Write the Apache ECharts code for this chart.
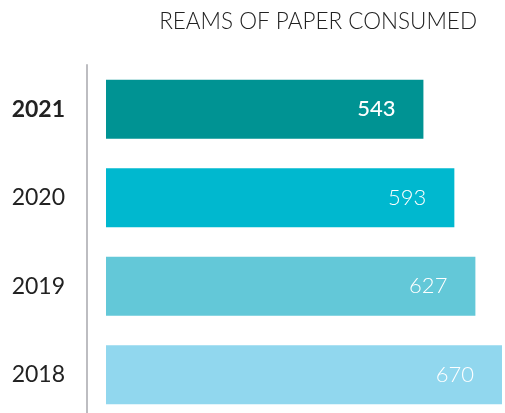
<!DOCTYPE html>
<html>
<head>
<meta charset="utf-8">
<script src="https://cdn.jsdelivr.net/npm/echarts@6/dist/echarts.min.js"></script>
<style>
  html, body { margin: 0; padding: 0; background: #fff; overflow: hidden; }
  #chart-panel { width: 505px; height: 419px; }
</style>
</head>
<body>
<div id="chart-panel"></div>
<script>
// data
var years = ['2021', '2020', '2019', '2018'];
var reams = [543, 593, 627, 670];
var barColors = ['#009393', '#00b8cf', '#63c8d8', '#91d7ee'];

var chart = echarts.init(document.getElementById('chart-panel'));

var option = {
    backgroundColor: '#fff',
    title: {
        text: 'REAMS OF PAPER CONSUMED',
        right: 23,
        top: 5,
        textStyle: {
            fontFamily: 'Lato',
            fontWeight: 300,
            fontSize: 22.5,
            color: '#222'
        }
    },
    // 画布比窗口略高，最下面一条柱子贴着底边
    grid: {
        left: 106,
        right: 3,
        top: 65,
        bottom: 0
    },
    xAxis: {
        type: 'value',
        min: 30,
        max: 670,
        show: false
    },
    yAxis: {
        type: 'category',
        data: years,
        inverse: true,
        offset: 19,
        axisLine: {
            show: true,
            lineStyle: { color: '#bdbdc1', width: 2 }
        },
        axisTick: { show: false },
        axisLabel: {
            margin: 22,
            fontFamily: 'Lato',
            fontSize: 23,
            color: '#222',
            formatter: function(v, i) {
                // 最新年份加粗
                return i === 0 ? '{b|' + v + '}' : v;
            },
            rich: {
                b: { fontFamily: 'Lato', fontSize: 23, fontWeight: 'bold', color: '#222' }
            }
        }
    },
    series: [{
        type: 'bar',
        barWidth: 59,
        data: reams.map(function(v, i) {
            return {
                value: v,
                itemStyle: { color: barColors[i] },
                label: { fontWeight: i === 0 ? 500 : 300 }
            };
        }),
        label: {
            show: true,
            position: 'insideRight',
            distance: 28,
            fontFamily: 'Lato',
            fontSize: 22,
            color: '#fff'
        },
        silent: true
    }],
    animation: false
};

chart.setOption(option);
</script>
</body>
</html>
